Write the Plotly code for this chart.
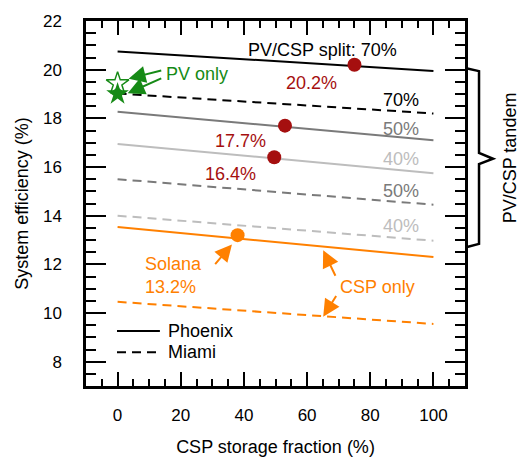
import plotly.graph_objects as go

# CSP storage fraction (%) at the two ends of each modelled line
storage = [0, 100]

# System efficiency (%) — Phoenix (solid) and Miami (dashed)
phx_split70 = [20.75, 19.95]
mia_split70 = [19.02, 18.20]
phx_split50 = [18.27, 17.10]
phx_split40 = [16.95, 15.74]
mia_split50 = [15.50, 14.45]
mia_split40 = [14.00, 12.97]
phx_csp_only = [13.53, 12.30]
mia_csp_only = [10.46, 9.55]

# Optimised tandem designs (Phoenix)
opt_storage = [75, 53, 49.6]
opt_eff = [20.2, 17.7, 16.4]
opt_labels = ["20.2%", "17.7%", "16.4%"]

# Solana plant
solana_storage = [38]
solana_eff = [13.2]

# PV-only systems
pv_storage = [0, 0]
pv_eff = [19.43, 19.0]

BLACK = "#000000"
GRAY = "#7a7a7a"
LIGHT = "#bdbdbd"
RED = "#a50f0f"
ORANGE = "#ff8000"
GREEN = "#168a16"
FONT = "Liberation Sans, Arial, sans-serif"

fig = go.Figure()

def line(y, color, dash):
    fig.add_trace(go.Scatter(x=storage, y=y, mode="lines", showlegend=False,
                             line=dict(color=color, width=2, dash=dash)))

line(phx_split70, BLACK, "solid")
line(mia_split70, BLACK, "9px,6px")
line(phx_split50, GRAY, "solid")
line(phx_split40, LIGHT, "solid")
line(mia_split50, GRAY, "9px,6px")
line(mia_split40, LIGHT, "9px,6px")
line(phx_csp_only, ORANGE, "solid")
line(mia_csp_only, ORANGE, "9px,6px")

fig.add_trace(go.Scatter(x=opt_storage, y=opt_eff, mode="markers", showlegend=False,
                         marker=dict(color=RED, size=14)))
fig.add_trace(go.Scatter(x=solana_storage, y=solana_eff, mode="markers", showlegend=False,
                         marker=dict(color=ORANGE, size=14)))
fig.add_trace(go.Scatter(x=pv_storage[:1], y=pv_eff[:1], mode="markers", showlegend=False,
                         marker=dict(symbol="star-open", color=GREEN, size=17,
                                     line=dict(color=GREEN, width=1.5))))
fig.add_trace(go.Scatter(x=pv_storage[1:], y=pv_eff[1:], mode="markers", showlegend=False,
                         marker=dict(symbol="star", color=GREEN, size=17)))

ann = []

def text(x, y, s, color, xanchor="center", **kw):
    ann.append(dict(x=x, y=y, xref="x", yref="y", text=s, showarrow=False,
                    xanchor=xanchor, yanchor="middle",
                    font=dict(family=FONT, size=18, color=color), **kw))

def arrow(hx, hy, tx, ty, color):
    ann.append(dict(x=hx, y=hy, ax=tx, ay=ty, xref="x", yref="y", axref="x", ayref="y",
                    text="", showarrow=True, arrowhead=2, arrowsize=1.7,
                    arrowwidth=2, arrowcolor=color, standoff=0, startstandoff=0))

text(40.6, 20.81, "PV/CSP split: 70%", BLACK, "left")
for (x, y, s) in zip([61.3, 39.0, 35.7], [19.47, 17.05, 15.71], opt_labels):
    text(x, y, s, RED)
text(96.2, 18.76, "70%", BLACK, "right")
text(96.2, 17.57, "50%", GRAY, "right")
text(96.2, 16.34, "40%", LIGHT, "right")
text(96.2, 15.00, "50%", GRAY, "right")
text(96.2, 13.57, "40%", LIGHT, "right")
text(14.6, 19.82, "PV only", GREEN, "left")
text(7.9, 11.54, "Solana<br>13.2%", ORANGE, "left", align="left")
text(69.8, 11.08, "CSP only", ORANGE, "left")

arrow(3.5, 19.63, 14.3, 19.98, GREEN)
arrow(3.2, 19.03, 14.3, 19.67, GREEN)
arrow(36.2, 12.82, 30.5, 11.95, ORANGE)
arrow(65.1, 12.58, 69.2, 11.47, ORANGE)
arrow(65.1, 9.85, 69.5, 10.76, ORANGE)

# Legend drawn as sample lines with labels
ann.append(dict(x=0.211, y=9.26, xref="paper", yref="y", text="Phoenix", showarrow=False,
                xanchor="left", yanchor="middle", font=dict(family=FONT, size=18, color=BLACK)))
ann.append(dict(x=0.211, y=8.39, xref="paper", yref="y", text="Miami", showarrow=False,
                xanchor="left", yanchor="middle", font=dict(family=FONT, size=18, color=BLACK)))

# Bracket label
ann.append(dict(x=1.119, y=16.36, xref="paper", yref="y", text="PV/CSP tandem", showarrow=False,
                textangle=-90, xanchor="center", yanchor="middle",
                font=dict(family=FONT, size=18, color=BLACK)))

shapes = [
    dict(type="line", xref="paper", yref="y", x0=0.0818, x1=0.195, y0=9.26, y1=9.26,
         line=dict(color=BLACK, width=2)),
    dict(type="line", xref="paper", yref="y", x0=0.0818, x1=0.195, y0=8.39, y1=8.39,
         line=dict(color=BLACK, width=2, dash="9px,6px")),
    dict(type="path", xref="paper", yref="y",
         path="M1.003,20.06 L1.037,19.94 L1.037,16.58 L1.074,16.34 L1.037,16.12 "
              "L1.037,12.84 L1.003,12.70",
         line=dict(color=BLACK, width=2.5)),
]

axis_common = dict(showline=True, linecolor=BLACK, linewidth=2.5, mirror="ticks",
                   ticks="inside", tickcolor=BLACK, tickwidth=1.5, showgrid=False,
                   zeroline=False, tickfont=dict(family=FONT, size=17, color=BLACK))

fig.update_layout(
    width=520, height=467,
    margin=dict(l=86, r=55, t=14, b=74),
    paper_bgcolor="white", plot_bgcolor="white",
    xaxis=dict(range=[-10, 110], dtick=20, tick0=0, ticklen=14,
               minor=dict(dtick=5, tick0=0, ticklen=7, ticks="inside", tickcolor=BLACK, tickwidth=1.5),
               ticklabelstandoff=12,
               title=dict(text="CSP storage fraction (%)", font=dict(family=FONT, size=18, color=BLACK),
                          standoff=17),
               **axis_common),
    yaxis=dict(range=[7, 22], dtick=2, tick0=0, ticklen=20,
               minor=dict(dtick=0.5, tick0=0, ticklen=10, ticks="inside", tickcolor=BLACK, tickwidth=1.5),
               ticklabelstandoff=18,
               title=dict(text="System efficiency (%)", font=dict(family=FONT, size=18, color=BLACK),
                          standoff=10),
               **axis_common),
    annotations=ann,
    shapes=shapes,
    showlegend=False,
)

fig.write_html("out.html")
